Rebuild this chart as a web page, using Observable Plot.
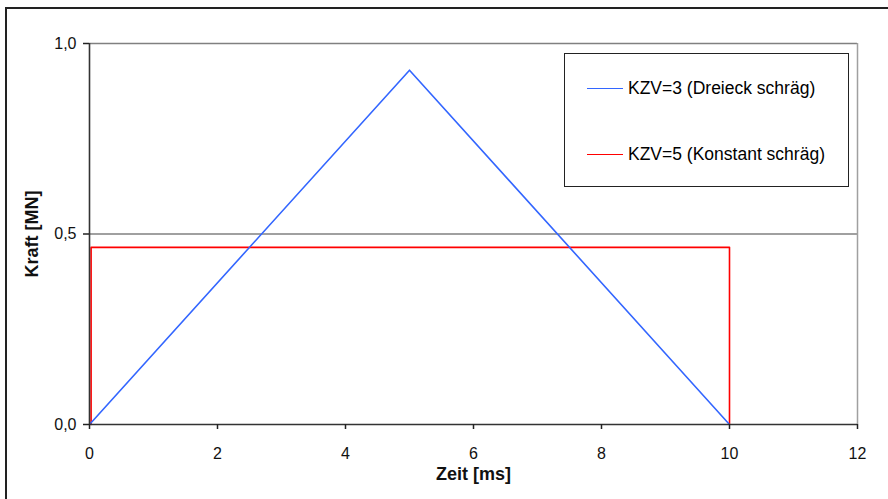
<!DOCTYPE html>
<html>
<head>
<meta charset="utf-8">
<script src="https://cdn.jsdelivr.net/npm/d3@7"></script>
<script src="https://cdn.jsdelivr.net/npm/@observablehq/plot@0.6"></script>
<style>
  html, body { margin: 0; padding: 0; background: #fff; }
  #wrap { position: relative; width: 888px; height: 499px; overflow: hidden; font-family: "Liberation Sans", Arial, sans-serif; }
  #frame { position: absolute; left: 5px; top: 7px; width: 900px; height: 520px; border-left: 2px solid #222; border-top: 2px solid #222; box-sizing: border-box; }
  #chart { position: absolute; left: 0; top: 0; }
  #legend { position: absolute; left: 564px; top: 53px; width: 285px; height: 134px; border: 1.5px solid #222; box-sizing: border-box; background: #fff; }
  .item { position: absolute; left: 22px; height: 20px; display: flex; align-items: center; font-size: 17.5px; color: #000; white-space: nowrap; }
  .swatch { width: 36px; height: 0; border-top: 1.6px solid; margin-right: 5px; }
</style>
</head>
<body>
<div id="wrap">
  <div id="frame"></div>
  <div id="chart"></div>
  <div id="legend"></div>
</div>
<script>
const seriesNames = ["KZV=3 (Dreieck schräg)", "KZV=5 (Konstant schräg)"];
const seriesColors = ["#3366ff", "#ff0000"];
const triX = [0, 5, 10];
const triY = [0, 0.93, 0];
const rectX = [0.025, 0.025, 10, 10];
const rectY = [0, 0.465, 0.465, 0];
const xTicks = [0, 2, 4, 6, 8, 10, 12];
const yTicks = [0, 0.5, 1.0];
const yTickLabels = ["0,0", "0,5", "1,0"];
const xTitle = "Zeit [ms]";
const yTitle = "Kraft [MN]";

const tri = triX.map((x, i) => ({x, y: triY[i]}));
const rect = rectX.map((x, i) => ({x, y: rectY[i]}));

const chart = Plot.plot({
  width: 888,
  height: 499,
  marginLeft: 89,
  marginRight: 31,
  marginTop: 43,
  marginBottom: 75,
  style: {fontFamily: "'Liberation Sans', Arial, sans-serif", fontSize: "16px", background: "transparent", overflow: "visible"},
  x: {domain: [0, 12]},
  y: {domain: [0, 1]},
  marks: [
    Plot.ruleY([0.5, 1.0], {stroke: "#808080", strokeWidth: 1.5}),
    Plot.ruleX([12], {stroke: "#a0a0a0", strokeWidth: 1.5}),
    Plot.line(rect, {x: "x", y: "y", stroke: seriesColors[1], strokeWidth: 1.6}),
    Plot.line(tri, {x: "x", y: "y", stroke: seriesColors[0], strokeWidth: 1.6}),
    Plot.ruleX([0], {stroke: "#333", strokeWidth: 1.6}),
    Plot.ruleY([0], {stroke: "#333", strokeWidth: 1.6}),
    Plot.axisX({ticks: xTicks, tickSize: 5, tickPadding: 18, fontSize: 16, stroke: "#222", strokeWidth: 1.5, color: "#111", label: null, strokeOpacity: 1}),
    Plot.axisY({ticks: yTicks, tickFormat: (d) => yTickLabels[yTicks.indexOf(d)], tickSize: 6, tickPadding: 7, fontSize: 16, stroke: "#222", strokeWidth: 1.5, color: "#111", label: null, strokeOpacity: 1}),
    Plot.text([xTitle], {frameAnchor: "bottom", dy: 50, lineAnchor: "middle", textAnchor: "middle", fontSize: 18, fontWeight: "bold", fill: "#111"}),
    Plot.text([yTitle], {frameAnchor: "left", dx: -57, rotate: -90, lineAnchor: "middle", textAnchor: "middle", fontSize: 18, fontWeight: "bold", fill: "#111"})
  ]
});
document.getElementById("chart").appendChild(chart);

const legend = document.getElementById("legend");
const tops = [24, 90];
seriesNames.forEach((name, i) => {
  const it = document.createElement("div");
  it.className = "item";
  it.style.top = tops[i] + "px";
  const sw = document.createElement("span");
  sw.className = "swatch";
  sw.style.borderColor = seriesColors[i];
  const tx = document.createElement("span");
  tx.textContent = name;
  it.appendChild(sw);
  it.appendChild(tx);
  legend.appendChild(it);
});
</script>
</body>
</html>
